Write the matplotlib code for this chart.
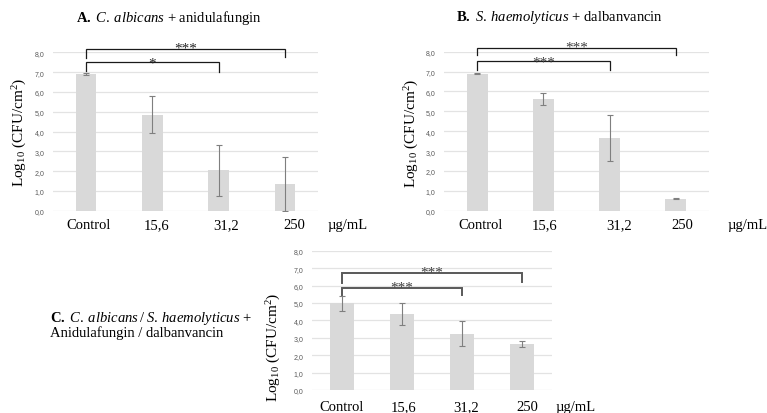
import matplotlib
matplotlib.use("Agg")
import matplotlib.pyplot as plt
import matplotlib.transforms as mtransforms

plt.rcParams['mathtext.fontset'] = 'custom'
plt.rcParams['mathtext.rm'] = 'Liberation Serif'
plt.rcParams['mathtext.it'] = 'Liberation Serif:italic'
plt.rcParams['mathtext.bf'] = 'Liberation Serif:bold'
plt.rcParams['font.family'] = ['Liberation Serif', 'DejaVu Sans']

# ---------------- data ----------------
categories = ["Control", "15,6", "31,2", "250"]
unit_label = "\u00b5g/mL"
yticks = [0, 1, 2, 3, 4, 5, 6, 7, 8]
ytick_labels = ["0,0", "1,0", "2,0", "3,0", "4,0", "5,0", "6,0", "7,0", "8,0"]

a_means = [6.90, 4.85, 2.04, 1.35]
a_errs = [0.04, 0.94, 1.28, 1.35]
b_means = [6.89, 5.61, 3.65, 0.60]
b_errs = [0.03, 0.30, 1.14, 0.02]
c_means = [4.98, 4.37, 3.24, 2.62]
c_errs = [0.44, 0.64, 0.74, 0.17]

# significance brackets: (from, to, bar height, left leg end, right leg end, star baseline, label)
a_sig = [(0, 3, 8.17, 7.72, 7.78, 8.02, "***"), (0, 2, 7.49, 7.05, 6.99, 7.27, "*")]
b_sig = [(0, 3, 8.21, 7.82, 7.82, 8.06, "***"), (0, 2, 7.54, 7.09, 7.09, 7.32, "***")]
c_sig = [(0, 3, 6.71, 6.15, 6.19, 6.55, "***"), (0, 2, 5.88, 5.48, 5.46, 5.73, "***")]

BAR = "#d9d9d9"
GRID = "#e3e3e3"
ERR = "#7f7f7f"

fig = plt.figure(figsize=(7.67, 4.14), dpi=100)


def panel(rect, means, errs, sig, width, label_x, label_y, unit_x, bracket_color, bracket_lw,
          star_color):
    ax = fig.add_axes(rect)
    x = list(range(len(categories)))
    ax.bar(x, means, width=width, color=BAR, zorder=2)
    ax.errorbar(x, means, yerr=errs, fmt='none', ecolor=ERR, elinewidth=0.8,
                capsize=2, capthick=0.8, zorder=3)
    ax.set_xlim(-0.5, 3.5)
    ax.set_ylim(0, 8)
    ax.set_yticks(yticks)
    ax.set_yticklabels(ytick_labels, family='Liberation Sans', fontsize=5, color='#595959')
    ax.tick_params(axis='y', length=0, pad=6)
    ax.set_xticks([])
    ax.grid(axis='y', color=GRID, linewidth=0.9, zorder=0)
    ax.set_axisbelow(True)
    for s in ax.spines.values():
        s.set_visible(False)
    trans = mtransforms.blended_transform_factory(ax.transData, ax.transAxes)
    for lx, lab in zip(label_x, categories):
        ax.text(lx, label_y, lab, transform=trans, ha='center', va='center', fontsize=10.5)
    ax.text(unit_x, label_y, unit_label, transform=trans, ha='center', va='center', fontsize=10.5)
    for (i, j, h, l1, l2, sy, lab) in sig:
        ax.plot([i, i, j, j], [l1, h, h, l2], color=bracket_color, lw=bracket_lw,
                solid_joinstyle='miter', clip_on=False, zorder=4)
        ax.text((i + j) / 2, sy, lab, ha='center', va='baseline', fontsize=11,
                color=star_color, zorder=5, clip_on=False)
    return ax


panel([53 / 767, 1 - 211.7 / 414, 265 / 767, 158.4 / 414], a_means, a_errs, a_sig, 0.31,
      [0.04, 1.07, 2.11, 3.14], -0.09, 3.95, '#1a1a1a', 0.9, '#262626')
panel([444 / 767, 1 - 211.7 / 414, 265 / 767, 159 / 414], b_means, b_errs, b_sig, 0.32,
      [0.056, 1.02, 2.14, 3.10], -0.085, 4.08, '#1a1a1a', 0.9, '#404040')
panel([311.7 / 767, 1 - 391 / 414, 240 / 767, 139.3 / 414], c_means, c_errs, c_sig, 0.40,
      [0.0, 1.03, 2.07, 3.10], -0.12, 3.90, '#595959', 1.4, '#404040')

ylab = r'Log$_{10}$ (CFU/cm$^{2}$)'
fig.text(20 / 767, 1 - 132.5 / 414, ylab, rotation=90, ha='center', va='center', fontsize=11)
fig.text(411.5 / 767, 1 - 133.5 / 414, ylab, rotation=90, ha='center', va='center', fontsize=11)
fig.text(274 / 767, 1 - 347 / 414, ylab, rotation=90, ha='center', va='center', fontsize=11)

fig.text(169 / 767, 1 - 18 / 414, r'$\mathbf{A.}$ $\mathit{C.\:albicans}$ + anidulafungin',
         ha='center', va='center', fontsize=10.5)
fig.text(560 / 767, 1 - 18 / 414, r'$\mathbf{B.}$ $\mathit{S.\:haemolyticus}$ + dalbanvancin',
         ha='center', va='center', fontsize=10.5)
fig.text(50 / 767, 1 - 318.3 / 414,
         r'$\mathbf{C.}$ $\mathit{C.\:albicans\:/\:S.\:haemolyticus}$ +',
         ha='left', va='center', fontsize=10.5)
fig.text(50 / 767, 1 - 333.3 / 414, 'Anidulafungin / dalbanvancin',
         ha='left', va='center', fontsize=10.5)

fig.savefig("out.png", dpi=100, facecolor='white')
